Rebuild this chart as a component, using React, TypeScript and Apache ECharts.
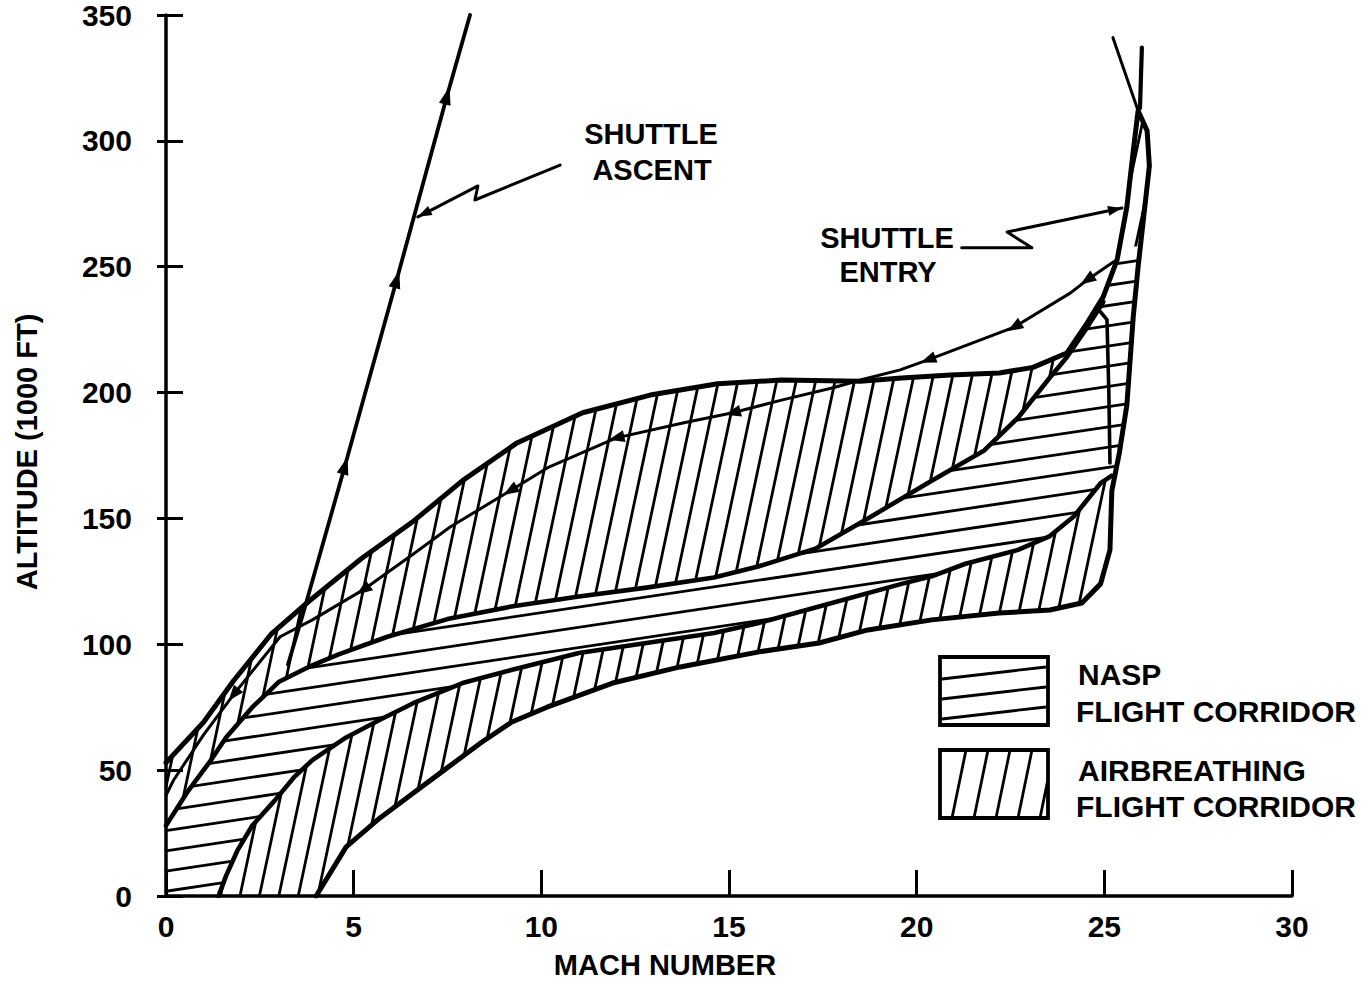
import React, { useEffect, useRef } from "react";
import * as echarts from "echarts";

type Pt = [number, number];

// ---------- axes ----------
const xMin = 0, xMax = 30, xStep = 5;
const yMin = 0, yMax = 350, yStep = 50;
const xAxisTitle = "MACH NUMBER";
const yAxisTitle = "ALTITUDE (1000 FT)";

// ---------- airbreathing flight corridor (Mach, altitude 1000 ft) ----------
const airUpper: Pt[] = [
  [0, 53], [1.0, 69], [1.8, 85.5], [2.8, 104], [3.8, 117], [5.2, 134], [6.6, 149], [7.9, 165],
  [9.35, 180], [11.1, 192], [12.9, 199], [14.7, 203.5], [16.4, 205], [18.5, 204.5], [19.6, 205.8],
  [20.9, 207], [22.2, 207.8], [23.1, 210], [24.0, 215.7], [24.54, 227.6], [24.97, 238],
  [25.34, 252.7], [25.6, 273.7], [25.77, 296], [25.9, 312],
];
const airRight: Pt[] = [
  [26.14, 304], [26.2, 290], [26.05, 270], [25.9, 250], [25.77, 230], [25.6, 195], [25.4, 176],
  [25.2, 161], [25.15, 137.5], [24.9, 124], [24.4, 116.4], [23.55, 113.6],
];
const airLower: Pt[] = [
  [4.0, 0], [4.8, 19.5], [5.7, 31], [6.6, 41], [7.5, 51], [8.4, 61], [9.2, 69], [10.15, 75],
  [11.9, 84.6], [13.7, 91], [15.8, 97], [17.4, 100.5], [18.7, 105.7], [20.4, 109.7], [22.2, 112.4],
];
const airTipArm: Pt[] = [[26.0, 337], [25.95, 313]];

// ---------- NASP flight corridor ----------
const naspUpper: Pt[] = [
  [0, 28], [0.6, 42], [1.2, 54], [1.6, 63], [2.3, 75], [3.0, 85], [3.8, 91], [4.6, 96], [5.9, 103],
  [7.5, 110], [9.2, 115], [11.0, 119], [12.8, 122.5], [14.6, 126.5], [15.8, 131], [17.3, 138],
  [18.7, 150], [19.5, 157], [20.4, 165], [21.8, 177], [22.7, 190], [23.55, 206], [24.0, 214],
  [24.5, 225], [24.97, 236],
];
const naspSpike: Pt[] = [
  [25.34, 252.7], [25.45, 258], [26.0, 258], [25.9, 250], [25.77, 230], [25.6, 195], [25.4, 176], [25.2, 167],
];
const naspLower: Pt[] = [
  [1.4, 0], [1.6, 8], [1.9, 18], [2.3, 28], [2.9, 38], [3.4, 47], [3.9, 54], [4.8, 63], [5.7, 70],
  [6.6, 76.7], [7.9, 84.6], [9.2, 89.8], [11.0, 96.5], [12.8, 100.5], [14.6, 104.5], [15.8, 108.5],
  [17.4, 115], [19.6, 124], [20.4, 127], [21.3, 132], [22.7, 137.5], [23.55, 143], [24.2, 151],
  [24.9, 164], [25.2, 167],
];
const naspInner: Pt[] = [[24.9, 232], [25.07, 229], [25.12, 200], [25.15, 172]];

// ---------- trajectories ----------
const entryPath: Pt[] = [
  [25.23, 341], [25.9, 312], [25.77, 296], [25.6, 273.7], [25.34, 252.7], [25.2, 251.5], [24.54, 244.7],
  [24.1, 239.6], [22.6, 226], [20.3, 213], [19.56, 209], [18.5, 205], [17.8, 202], [16.4, 197],
  [15.1, 192], [13.8, 188], [12.0, 182], [10.2, 170.4], [9.17, 161], [7.57, 146.6], [6.6, 136],
  [5.25, 121.6], [3.9, 109.7], [3.04, 103], [1.8, 80], [1.0, 64], [0.2, 46], [0, 40],
];
const entryArrows: Pt[] = [
  [24.54, 244.7], [22.6, 226], [20.3, 213], [15.1, 192], [12.0, 182], [9.17, 161], [5.25, 121.6], [1.8, 80],
];
const ascentPath: Pt[] = [[3.25, 92], [3.65, 112], [4.77, 171], [6.15, 245], [7.49, 318], [8.1, 350]];
const ascentArrows: Pt[] = [[4.77, 171], [6.15, 245], [7.49, 318]];

// ---------- annotations ----------
const ascentLabel = ["SHUTTLE", "ASCENT"];
const entryLabel = ["SHUTTLE", "ENTRY"];
const ascentLeader: Pt[] = [[10.5, 290.4], [8.23, 276.5], [8.31, 282.1], [7.22, 273.7], [6.71, 269.8]];
const entryLeader: Pt[] = [[21.2, 257.5], [23.07, 257.5], [22.41, 263.8], [25.47, 273.3]];
const legendNames = [["NASP", "FLIGHT CORRIDOR"], ["AIRBREATHING", "FLIGHT CORRIDOR"]];

const FONT = '"Liberation Sans", Arial, Helvetica, sans-serif';
const INK = "#000";

function hatchSegments(poly: number[][], angleDeg: number, spacing: number, phase: number) {
  const a = (angleDeg * Math.PI) / 180;
  const d = [Math.cos(a), Math.sin(a)];
  const n = [-d[1], d[0]];
  const proj = poly.map((p) => p[0] * n[0] + p[1] * n[1]);
  const tmin = Math.min(...proj), tmax = Math.max(...proj);
  const segs: number[][] = [];
  for (let t = Math.ceil((tmin - phase) / spacing) * spacing + phase; t <= tmax; t += spacing) {
    const us: number[] = [];
    for (let i = 0; i < poly.length; i++) {
      const j = (i + 1) % poly.length;
      const ta = proj[i], tb = proj[j];
      if ((ta <= t && tb > t) || (tb <= t && ta > t)) {
        const f = (t - ta) / (tb - ta);
        const px = poly[i][0] + f * (poly[j][0] - poly[i][0]);
        const py = poly[i][1] + f * (poly[j][1] - poly[i][1]);
        us.push(px * d[0] + py * d[1]);
      }
    }
    us.sort((p, q) => p - q);
    for (let k = 0; k + 1 < us.length; k += 2) {
      segs.push([
        t * n[0] + us[k] * d[0], t * n[1] + us[k] * d[1],
        t * n[0] + us[k + 1] * d[0], t * n[1] + us[k + 1] * d[1],
      ]);
    }
  }
  return segs;
}

function regionSeries(polygon: Pt[], angle: number, spacing: number, phase: number, fill: string) {
  return {
    type: "custom",
    coordinateSystem: "cartesian2d",
    silent: true,
    data: [[0, 0]],
    renderItem: (_p: any, api: any) => {
      const poly = polygon.map((q) => api.coord(q));
      const children: any[] = [
        { type: "polygon", shape: { points: poly }, style: { fill, stroke: null } },
      ];
      for (const s of hatchSegments(poly, angle, spacing, phase)) {
        children.push({
          type: "line",
          shape: { x1: s[0], y1: s[1], x2: s[2], y2: s[3] },
          style: { stroke: INK, lineWidth: 2.8, lineCap: "round" },
        });
      }
      return { type: "group", children };
    },
  };
}

function lineSeries(data: Pt[], width: number) {
  return {
    type: "line",
    data,
    showSymbol: false,
    symbol: "none",
    silent: true,
    lineStyle: { color: INK, width, cap: "round", join: "round" },
    z: 4,
  };
}

function arrowSeries(path: Pt[], at: Pt[], tipAtPoint: boolean, len: number, hw: number) {
  return {
    type: "custom",
    coordinateSystem: "cartesian2d",
    silent: true,
    z: 6,
    data: at,
    renderItem: (_p: any, api: any) => {
      const p = api.coord([api.value(0), api.value(1)]);
      const px = path.map((q) => api.coord(q));
      let best = Infinity;
      let dir = [1, 0];
      for (let i = 0; i + 1 < px.length; i++) {
        const a = px[i], b = px[i + 1];
        const dx = b[0] - a[0], dy = b[1] - a[1];
        const L2 = dx * dx + dy * dy;
        if (!L2) continue;
        let f = ((p[0] - a[0]) * dx + (p[1] - a[1]) * dy) / L2;
        f = Math.max(0, Math.min(1, f));
        const qx = a[0] + f * dx - p[0], qy = a[1] + f * dy - p[1];
        const d2 = qx * qx + qy * qy;
        if (d2 < best - 1e-6) {
          best = d2;
          const L = Math.sqrt(L2);
          dir = [dx / L, dy / L];
        }
      }
      const tip = tipAtPoint ? p : [p[0] + (dir[0] * len) / 2, p[1] + (dir[1] * len) / 2];
      const base = [tip[0] - dir[0] * len, tip[1] - dir[1] * len];
      const nx = -dir[1], ny = dir[0];
      return {
        type: "polygon",
        shape: { points: [tip, [base[0] + nx * hw, base[1] + ny * hw], [base[0] - nx * hw, base[1] - ny * hw]] },
        style: { fill: INK },
      };
    },
  };
}

function txt(text: string, x: number, y: number, size: number, align = "center", rotation = 0) {
  return {
    type: "text",
    x,
    y,
    rotation,
    silent: true,
    z: 20,
    style: {
      text,
      fill: INK,
      font: `bold ${size}px ${FONT}`,
      fontSize: size,
      fontWeight: "bold",
      fontFamily: FONT,
      textAlign: align,
      align,
      textVerticalAlign: "middle",
      verticalAlign: "middle",
    },
  };
}

function legendGraphics() {
  const els: any[] = [];
  const bx = 940, bw = 108, bh = 68;
  const tops = [657, 750];
  els.push({ type: "rect", shape: { x: bx, y: tops[0], width: bw, height: bh }, style: { fill: "#fff", stroke: INK, lineWidth: 3.8 }, z: 20 });
  for (let i = 0; i < 3; i++) {
    const yl = tops[0] + 22 + i * 20;
    els.push({ type: "line", shape: { x1: bx + 2, y1: yl, x2: bx + bw - 2, y2: yl - 12 }, style: { stroke: INK, lineWidth: 2.8 }, z: 21 });
  }
  els.push({ type: "rect", shape: { x: bx, y: tops[1], width: bw, height: bh }, style: { fill: "#fff", stroke: INK, lineWidth: 3.8 }, z: 20 });
  for (let i = 0; i < 5; i++) {
    const xb = bx + 12 + i * 22;
    const xt = xb + 14;
    if (xt > bx + bw) {
      const f = (bx + bw - xb) / 14;
      els.push({ type: "line", shape: { x1: xb, y1: tops[1] + bh, x2: bx + bw, y2: tops[1] + bh - f * bh }, style: { stroke: INK, lineWidth: 2.8 }, z: 21 });
    } else {
      els.push({ type: "line", shape: { x1: xb, y1: tops[1] + bh, x2: xt, y2: tops[1] }, style: { stroke: INK, lineWidth: 2.8 }, z: 21 });
    }
  }
  els.push(txt(legendNames[0][0], 1078, 674, 30, "left"));
  els.push(txt(legendNames[0][1], 1076, 711, 30, "left"));
  els.push(txt(legendNames[1][0], 1078, 770, 30, "left"));
  els.push(txt(legendNames[1][1], 1076, 806, 30, "left"));
  return els;
}

function buildOption() {
  const airPolygon: Pt[] = [...airUpper, ...airRight, ...[...airLower].reverse(), [0, 0]];
  const naspPolygon: Pt[] = [...naspUpper, ...naspSpike, ...[...naspLower].reverse(), [0, 0]];
  const airOutline: Pt[] = [...airUpper, ...airRight, ...[...airLower].reverse()];
  const labelStyle = { color: INK, fontSize: 30, fontWeight: "bold", fontFamily: FONT };
  return {
    animation: false,
    backgroundColor: "#fff",
    grid: { left: 166, right: 77, top: 15, bottom: 91, containLabel: false, outerBoundsMode: "none" },
    xAxis: {
      type: "value",
      min: xMin,
      max: xMax,
      interval: xStep,
      z: 10,
      axisLine: { onZero: false, lineStyle: { color: INK, width: 3.5 } },
      axisTick: { inside: true, length: 26, lineStyle: { color: INK, width: 3 } },
      axisLabel: { ...labelStyle, margin: 15 },
      splitLine: { show: false },
    },
    yAxis: [
      {
        type: "value",
        min: yMin,
        max: yMax,
        interval: yStep,
        z: 10,
        axisLine: { show: true, onZero: false, lineStyle: { color: INK, width: 3.5 } },
        axisTick: { show: true, inside: true, length: 17, lineStyle: { color: INK, width: 3 } },
        axisLabel: { ...labelStyle, margin: 34 },
        splitLine: { show: false },
      },
      {
        type: "value",
        min: yMin,
        max: yMax,
        interval: yStep,
        position: "left",
        z: 10,
        axisLine: { show: false },
        axisTick: { show: true, inside: false, length: 9, lineStyle: { color: INK, width: 3 } },
        axisLabel: { show: false },
        splitLine: { show: false },
      },
    ],
    graphic: [
      txt(xAxisTitle, 665, 965, 29),
      txt(yAxisTitle, 27, 452, 29, "center", Math.PI / 2),
      txt(ascentLabel[0], 651, 134, 29),
      txt(ascentLabel[1], 652, 170, 29),
      txt(entryLabel[0], 887, 238, 29),
      txt(entryLabel[1], 888, 272, 29),
      ...legendGraphics(),
    ],
    series: [
      regionSeries(airPolygon, -78, 19, 3, "none"),
      regionSeries(naspPolygon, -8.5, 20, 6, "#fff"),
      lineSeries(airOutline, 5),
      lineSeries(airTipArm, 4.2),
      lineSeries(naspUpper, 4.6),
      lineSeries(naspLower, 4.6),
      lineSeries(naspInner, 3.6),
      lineSeries(entryPath, 3),
      lineSeries(ascentPath, 3.8),
      lineSeries(ascentLeader, 3),
      lineSeries(entryLeader, 3),
      arrowSeries(entryPath, entryArrows, false, 16, 6),
      arrowSeries(ascentPath, ascentArrows, false, 18, 6),
      arrowSeries(ascentLeader, [ascentLeader[ascentLeader.length - 1]], true, 14, 5),
      arrowSeries(entryLeader, [entryLeader[entryLeader.length - 1]], true, 14, 5),
    ],
  };
}

export default function App() {
  const ref = useRef<HTMLDivElement>(null);
  useEffect(() => {
    if (!ref.current) return;
    const chart = echarts.init(ref.current, null, { renderer: "svg" });
    chart.setOption(buildOption() as any);
    return () => chart.dispose();
  }, []);
  return (
    <div
      ref={ref}
      style={{ position: "fixed", left: 0, top: 0, width: 1369, height: 987, background: "#fff" }}
    />
  );
}
